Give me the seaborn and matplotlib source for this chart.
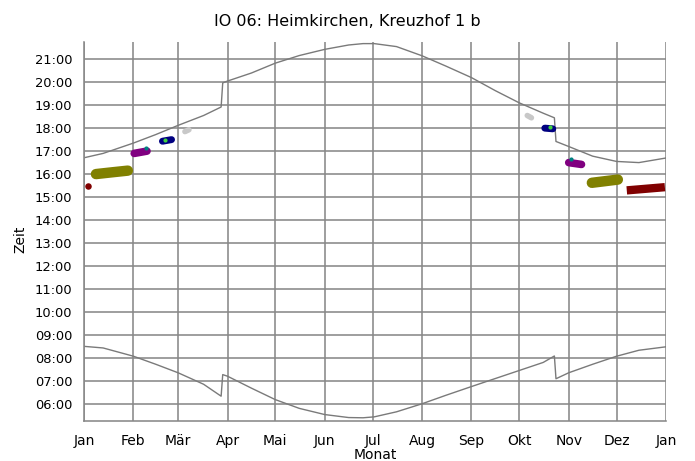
import numpy as np
import pandas as pd
import seaborn as sns
import matplotlib.pyplot as plt

# Tag im Jahr (0 = 1. Jan) und Uhrzeit in Stunden
sunset_day = [0, 12, 31, 45, 59, 75, 86, 87, 90, 105, 120, 135, 151, 166, 175, 182,
              196, 212, 227, 243, 258, 273, 288, 295, 296, 304, 319, 334, 348, 365]
sunset_time = [16.71, 16.90, 17.35, 17.72, 18.12, 18.55, 18.92, 19.97, 20.05, 20.40,
               20.83, 21.16, 21.43, 21.62, 21.68, 21.68, 21.55, 21.15, 20.70, 20.20,
               19.63, 19.10, 18.65, 18.45, 17.42, 17.20, 16.78, 16.55, 16.50, 16.70]

sunrise_day = [0, 12, 31, 45, 59, 75, 86, 87, 90, 105, 120, 135, 151, 166, 175, 182,
               196, 212, 227, 243, 258, 273, 288, 295, 296, 304, 319, 334, 348, 365]
sunrise_time = [8.50, 8.43, 8.07, 7.72, 7.35, 6.85, 6.33, 7.27, 7.20, 6.68,
                6.18, 5.80, 5.53, 5.40, 5.39, 5.43, 5.65, 6.00, 6.37, 6.75,
                7.10, 7.45, 7.80, 8.08, 7.09, 7.35, 7.72, 8.07, 8.33, 8.48]

# Schattenwurf-Zeiträume (Tag, Uhrzeit)
olive_spring_day = [7.5, 18, 27.5]
olive_spring_time = [16.00, 16.08, 16.15]
purple_spring_day = [31.5, 39.5]
purple_spring_time = [16.90, 17.00]
navy_spring_day = [49.2, 54.9]
navy_spring_time = [17.43, 17.50]
grey_spring_day = [63.3, 65.8]
grey_spring_time = [17.85, 17.93]

grey_autumn_day = [278.0, 280.6]
grey_autumn_time = [18.55, 18.45]
navy_autumn_day = [289.0, 294.0]
navy_autumn_time = [18.00, 17.97]
purple_autumn_day = [304.0, 312.0]
purple_autumn_time = [16.50, 16.42]
olive_autumn_day = [318.5, 334.8]
olive_autumn_time = [15.62, 15.76]
darkred_autumn_day = [340.4, 364.3]
darkred_autumn_time = [15.29, 15.43]

dot_day = [2.3, 38.6, 50.8, 292.0, 305.3]
dot_time = [15.46, 17.13, 17.49, 18.06, 16.65]
dot_color = ['#800000', '#008080', '#40d040', '#40d040', '#008080']
dot_size = [22, 9, 9, 9, 9]

month_start = [0, 31, 59, 90, 120, 151, 181, 212, 243, 273, 304, 334, 365]
month_labels = ['Jan', 'Feb', 'Mär', 'Apr', 'Mai', 'Jun', 'Jul', 'Aug', 'Sep',
                'Okt', 'Nov', 'Dez', 'Jan']
hours = list(range(6, 22))

sns.set_style('white')
plt.rcParams['font.family'] = ['DejaVu Sans']
plt.rcParams['text.color'] = 'black'
plt.rcParams['axes.labelcolor'] = 'black'

fig = plt.figure(figsize=(6.95, 4.61), dpi=100)
ax = fig.add_axes([84 / 695, 1 - 421 / 461, 582 / 695, 379 / 461])

grid_col = '#888888'
for m in month_start:
    ax.axvline(m, color=grid_col, lw=1.15, zorder=0)
for h in hours:
    ax.axhline(h, color=grid_col, lw=1.15, zorder=0)

sns.lineplot(x=sunset_day, y=sunset_time, color='#7a7a7a', lw=1.0,
             estimator=None, sort=False, ax=ax)
sns.lineplot(x=sunrise_day, y=sunrise_time, color='#7a7a7a', lw=1.0,
             estimator=None, sort=False, ax=ax)

blobs = [
    (olive_spring_day, olive_spring_time, '#808000', 7.5, 'round'),
    (purple_spring_day, purple_spring_time, '#800080', 5.5, 'round'),
    (navy_spring_day, navy_spring_time, '#000080', 5.0, 'round'),
    (grey_spring_day, grey_spring_time, '#c8c8c8', 4.0, 'round'),
    (grey_autumn_day, grey_autumn_time, '#c8c8c8', 4.0, 'round'),
    (navy_autumn_day, navy_autumn_time, '#000080', 5.0, 'round'),
    (purple_autumn_day, purple_autumn_time, '#800080', 5.5, 'round'),
    (olive_autumn_day, olive_autumn_time, '#808000', 7.5, 'round'),
    (darkred_autumn_day, darkred_autumn_time, '#800000', 6.0, 'butt'),
]
for d, t, c, w, cap in blobs:
    sns.lineplot(x=d, y=t, color=c, lw=w, estimator=None, sort=False,
                 solid_capstyle=cap, ax=ax)

for d, t, c, s in zip(dot_day, dot_time, dot_color, dot_size):
    ax.scatter(d, t, color=c, s=s, linewidths=0, zorder=3)

ax.set_xlim(0, 365)
ax.set_ylim(5.25, 21.75)

ax.set_xticks(month_start)
ax.set_xticklabels(month_labels)
minor_x = []
for a, b in zip(month_start[:-1], month_start[1:]):
    minor_x += [a + k * (b - a) / 4 for k in range(1, 4)]
ax.set_xticks(minor_x, minor=True)

ax.set_yticks(hours)
ax.set_yticklabels([f'{h:02d}:00' for h in hours])
ax.set_yticks(np.arange(5 + 1 / 3, 21.75, 1 / 6), minor=True)

ax.tick_params(axis='both', which='major', direction='out', length=4, width=0.8,
               color=grid_col, labelcolor='black', pad=4.5)
ax.tick_params(axis='both', which='minor', direction='out', length=2.2, width=0.8,
               color=grid_col)
ax.tick_params(axis='x', which='major', pad=5, labelsize=10)
ax.tick_params(axis='y', which='major', labelsize=9.4)

for s in ['top', 'right']:
    ax.spines[s].set_visible(False)
for s in ['left', 'bottom']:
    ax.spines[s].set_color(grid_col)
    ax.spines[s].set_linewidth(1.15)

ax.set_xlabel('Monat', fontsize=10)
ax.set_ylabel('Zeit', fontsize=10)
ax.xaxis.set_label_coords(0.5, -0.09)
ax.xaxis.label.set_va('center')
ax.yaxis.set_label_coords(-0.11, 0.48)
ax.yaxis.label.set_va('center')

fig.text(0.5, 1 - 22 / 461, 'IO 06: Heimkirchen, Kreuzhof 1 b', ha='center',
         va='center', fontsize=11.5)

fig.savefig('out.png', dpi=100)
